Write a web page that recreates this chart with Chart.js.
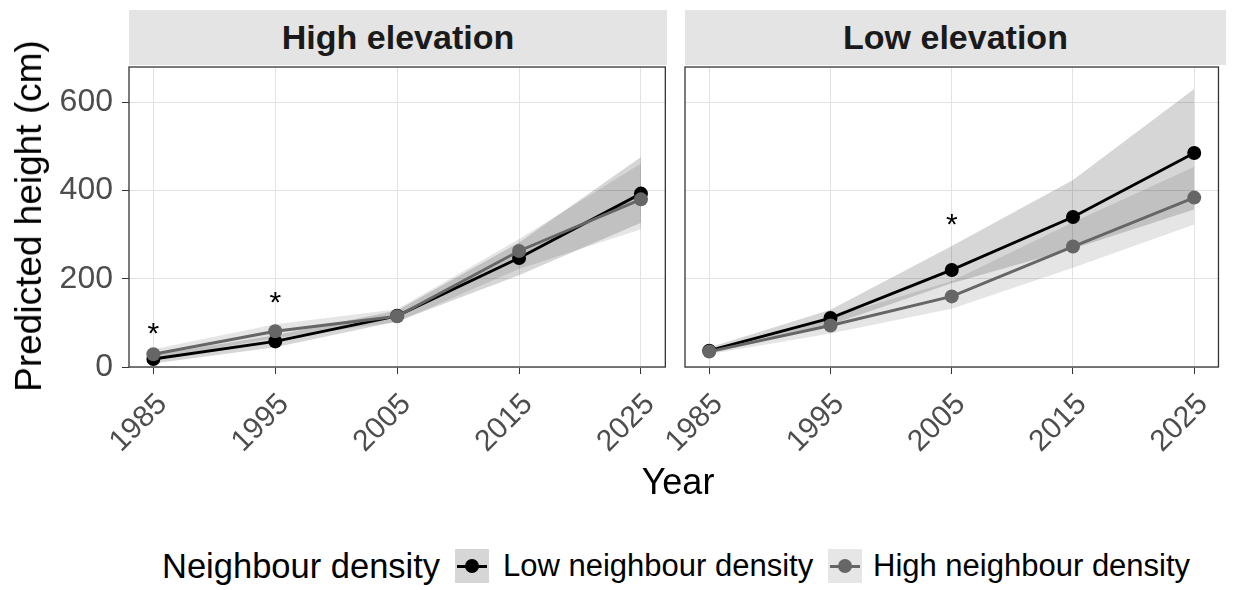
<!DOCTYPE html>
<html>
<head>
<meta charset="utf-8">
<script src="https://cdn.jsdelivr.net/npm/chart.js@4"></script>
<style>
  body { margin: 0; background: #fff; font-family: "Liberation Sans", Arial, sans-serif; }
  #wrap { position: relative; width: 1233px; height: 590px; overflow: hidden; }
  .strip { position: absolute; top: 10px; height: 55px; background: #e4e4e4; color: #1a1a1a;
           font-weight: bold; font-size: 34px; display: flex; align-items: center; justify-content: center; }
  canvas { position: absolute; }
  .txt { position: absolute; white-space: nowrap; color: #000; }
  .key { position: absolute; top: 549px; width: 34px; height: 34px; }
  .key .ln { position: absolute; left: 2px; right: 2px; top: 15.5px; height: 3px; }
  .key .dot { position: absolute; left: 10px; top: 10px; width: 14px; height: 14px; border-radius: 50%; }
</style>
</head>
<body>
<div id="wrap">
  <div class="strip" style="left:129px;width:538px;">High elevation</div>
  <div class="strip" style="left:685px;width:541px;">Low elevation</div>

  <canvas id="leftPanel" width="680" height="410" style="left:0;top:60px;"></canvas>
  <canvas id="rightPanel" width="593" height="410" style="left:640px;top:60px;"></canvas>

  <div class="txt" style="left:29px;top:216px;font-size:37px;transform:translate(-50%,-50%) rotate(-90deg);">Predicted height (cm)</div>
  <div class="txt" style="left:678px;top:482px;font-size:36px;transform:translate(-50%,-50%);">Year</div>

  <div class="txt" style="left:162px;top:566px;font-size:34.5px;transform:translateY(-50%);">Neighbour density</div>
  <div class="key" style="left:455px;background:#d6d6d6;"><div class="ln" style="background:#000"></div><div class="dot" style="background:#000"></div></div>
  <div class="txt" style="left:503px;top:566px;font-size:31px;transform:translateY(-50%);">Low neighbour density</div>
  <div class="key" style="left:828px;background:#e6e6e6;"><div class="ln" style="background:#666"></div><div class="dot" style="background:#666"></div></div>
  <div class="txt" style="left:873px;top:566px;font-size:31px;transform:translateY(-50%);">High neighbour density</div>
</div>

<script>
// Predicted height by year

const years = [1985, 1995, 2005, 2015, 2025];
const yTicks = [0, 200, 400, 600];

// High elevation panel
const highElevLowDens = [18, 58, 116, 247, 393];
const highElevLowDensLower = [8, 45, 103, 208, 327];
const highElevLowDensUpper = [28, 72, 128, 282, 476];
const highElevHighDens = [29, 81, 115, 263, 380];
const highElevHighDensLower = [18, 66, 102, 222, 312];
const highElevHighDensUpper = [40, 97, 131, 290, 461];
const highElevStarYears = [1985, 1995];
const highElevStarY = [83, 155];

// Low elevation panel
const lowElevLowDens = [37, 111, 220, 340, 485];
const lowElevLowDensLower = [30, 96, 190, 268, 357];
const lowElevLowDensUpper = [44, 130, 274, 424, 630];
const lowElevHighDens = [35, 94, 160, 273, 384];
const lowElevHighDensLower = [29, 76, 132, 225, 323];
const lowElevHighDensUpper = [41, 112, 195, 328, 454];
const lowElevStarYears = [2005];
const lowElevStarY = [330];

const FONT = '"Liberation Sans", Arial, sans-serif';
const LOW_COL = '#000000';
const HIGH_COL = '#666666';

function pts(vals) {
  return years.map((x, i) => ({ x: x, y: vals[i] }));
}

// panel border + significance stars
const panelPlugin = {
  id: 'panelExtras',
  afterDatasetsDraw(chart, args, opts) {
    const { ctx, chartArea: a, scales } = chart;
    ctx.save();
    ctx.font = '30px ' + FONT;
    ctx.fillStyle = '#000';
    ctx.textAlign = 'center';
    ctx.textBaseline = 'alphabetic';
    (opts.starYears || []).forEach((yr, i) => {
      const px = scales.x.getPixelForValue(yr);
      const py = scales.y.getPixelForValue(opts.starY[i]);
      ctx.fillText('*', px, py + 13);
    });
    ctx.strokeStyle = '#333333';
    ctx.lineWidth = 1.3;
    ctx.strokeRect(a.left, a.top, a.right - a.left, a.bottom - a.top);
    ctx.restore();
  }
};

function makePanel(id, series, showY) {
  const datasets = [
    { data: pts(series.lowLower), borderColor: 'transparent', borderWidth: 0, pointRadius: 0, fill: false, order: 6 },
    { data: pts(series.lowUpper), borderColor: 'transparent', borderWidth: 0, pointRadius: 0, fill: '-1',
      backgroundColor: 'rgba(0,0,0,0.16)', order: 6 },
    { data: pts(series.highLower), borderColor: 'transparent', borderWidth: 0, pointRadius: 0, fill: false, order: 5 },
    { data: pts(series.highUpper), borderColor: 'transparent', borderWidth: 0, pointRadius: 0, fill: '-1',
      backgroundColor: 'rgba(0,0,0,0.10)', order: 5 },
    { label: 'Low neighbour density', data: pts(series.low), borderColor: LOW_COL, backgroundColor: LOW_COL,
      borderWidth: 2.9, pointRadius: 7, pointBorderWidth: 0, tension: 0, fill: false, order: 2 },
    { label: 'High neighbour density', data: pts(series.high), borderColor: HIGH_COL, backgroundColor: HIGH_COL,
      borderWidth: 2.9, pointRadius: 7, pointBorderWidth: 0, tension: 0, fill: false, order: 1 },
  ];

  return new Chart(document.getElementById(id), {
    type: 'line',
    data: { datasets },
    plugins: [panelPlugin],
    options: {
      responsive: false,
      animation: false,
      devicePixelRatio: 1,
      layout: { padding: { top: 5, right: showY ? 13 : 7, bottom: 0, left: 0 } },
      plugins: {
        legend: { display: false },
        tooltip: { enabled: false },
        panelExtras: { starYears: series.starYears, starY: series.starY },
      },
      scales: {
        x: {
          type: 'linear',
          min: 1983,
          max: 2027,
          afterBuildTicks: (s) => { s.ticks = years.map((v) => ({ value: v })); },
          afterFit: (s) => { s.height = 103; },
          border: { display: false },
          grid: { color: '#e3e3e3', lineWidth: 1, tickColor: '#333333', tickLength: 7 },
          ticks: {
            autoSkip: false,
            minRotation: 45,
            maxRotation: 45,
            padding: 13,
            labelOffset: 9,
            color: '#4d4d4d',
            font: { family: FONT, size: 30 },
            callback: (v) => String(v),
          },
        },
        y: {
          min: 0,
          max: 680,
          afterBuildTicks: (s) => { s.ticks = yTicks.map((v) => ({ value: v })); },
          afterFit: (s) => {
            s.width = showY ? 129 : 45;
            s.paddingTop = 0;
            s.paddingBottom = 0;
          },
          border: { display: false },
          grid: { color: '#e3e3e3', lineWidth: 1, tickColor: '#333333', tickLength: showY ? 7 : 0, drawTicks: showY },
          ticks: {
            display: showY,
            padding: 9,
            color: '#4d4d4d',
            font: { family: FONT, size: 32 },
          },
        },
      },
    },
  });
}

makePanel('leftPanel', {
  low: highElevLowDens, lowLower: highElevLowDensLower, lowUpper: highElevLowDensUpper,
  high: highElevHighDens, highLower: highElevHighDensLower, highUpper: highElevHighDensUpper,
  starYears: highElevStarYears, starY: highElevStarY,
}, true);

makePanel('rightPanel', {
  low: lowElevLowDens, lowLower: lowElevLowDensLower, lowUpper: lowElevLowDensUpper,
  high: lowElevHighDens, highLower: lowElevHighDensLower, highUpper: lowElevHighDensUpper,
  starYears: lowElevStarYears, starY: lowElevStarY,
}, false);
</script>
</body>
</html>
